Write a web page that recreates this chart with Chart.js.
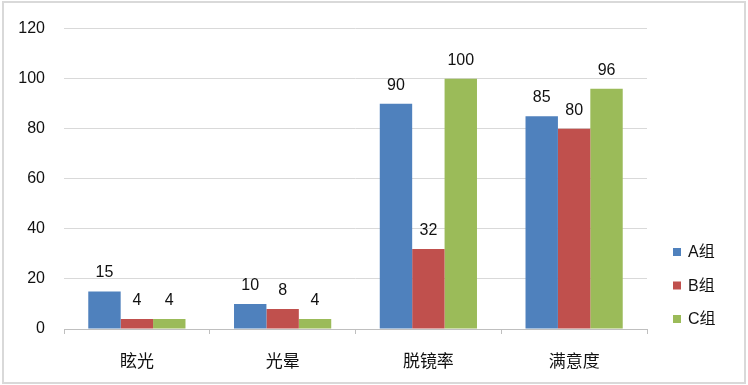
<!DOCTYPE html>
<html>
<head>
<meta charset="utf-8">
<script src="https://cdn.jsdelivr.net/npm/chart.js@4/dist/chart.umd.min.js"></script>
<style>
html, body { margin: 0; padding: 0; background: #fff; }
#wrap { width: 748px; height: 385px; position: relative; }
</style>
</head>
<body>
<div id="wrap"><canvas id="chart" width="748" height="385"></canvas></div>
<script>
var categories = ["眩光", "光晕", "脱镜率", "满意度"];
var seriesNames = ["A组", "B组", "C组"];
var groupA = [15, 10, 90, 85];
var groupB = [4, 8, 32, 80];
var groupC = [4, 4, 100, 96];
var colors = ["#4F81BD", "#C0504D", "#9BBB59"];
var yTicks = [0, 20, 40, 60, 80, 100, 120];

var fontFamily = "'Liberation Sans', 'Noto Sans CJK SC', sans-serif";
var textColor = "#111";

// border round the whole picture
var framePlugin = {
    id: "frame",
    beforeDraw(chart) {
        var ctx = chart.ctx;
        ctx.save();
        ctx.fillStyle = "#fff";
        ctx.fillRect(0, 0, chart.width, chart.height);
        ctx.strokeStyle = "#d9d9d9";
        ctx.lineWidth = 2;
        ctx.strokeRect(3, 2, chart.width - 6, chart.height - 4);
        ctx.restore();
    }
};

// numbers above bars
var valuePlugin = {
    id: "values",
    afterDatasetsDraw(chart) {
        var ctx = chart.ctx;
        ctx.save();
        ctx.font = "16px " + fontFamily;
        ctx.fillStyle = textColor;
        ctx.textAlign = "center";
        ctx.textBaseline = "alphabetic";
        chart.data.datasets.forEach(function (ds, i) {
            chart.getDatasetMeta(i).data.forEach(function (bar, j) {
                ctx.fillText(String(ds.data[j]), bar.x, bar.y - 14);
            });
        });
        ctx.restore();
    }
};

// legend on the right, stacked
var legendPlugin = {
    id: "sideLegend",
    afterDraw(chart) {
        var ctx = chart.ctx;
        var x = chart.chartArea.right + 26;
        var y0 = chart.chartArea.bottom - 77;
        ctx.save();
        ctx.font = "16px " + fontFamily;
        ctx.textBaseline = "middle";
        chart.data.datasets.forEach(function (ds, i) {
            var y = y0 + i * 33.5;
            ctx.fillStyle = ds.backgroundColor;
            ctx.fillRect(x, y - 4, 8, 8);
            ctx.fillStyle = textColor;
            ctx.fillText(ds.label, x + 15, y + 1);
        });
        ctx.restore();
    }
};

var ctx = document.getElementById("chart");
var myChart = new Chart(ctx, {
    type: "bar",
    data: {
        labels: categories,
        datasets: [
            { label: seriesNames[0], data: groupA, backgroundColor: colors[0] },
            { label: seriesNames[1], data: groupB, backgroundColor: colors[1] },
            { label: seriesNames[2], data: groupC, backgroundColor: colors[2] }
        ]
    },
    options: {
        responsive: false,
        animation: false,
        devicePixelRatio: 1,
        layout: { padding: { top: 26, left: 0, right: 101, bottom: 0 } },
        datasets: { bar: { categoryPercentage: 0.667, barPercentage: 1 } },
        scales: {
            x: {
                afterFit: function (s) { s.height = 56; },
                grid: { offset: true, drawOnChartArea: false, drawTicks: true, tickLength: 5, color: "#bfbfbf" },
                border: { display: true, color: "#bfbfbf", width: 1 },
                ticks: { color: textColor, font: { size: 17, family: fontFamily }, padding: 18 }
            },
            y: {
                min: 0,
                max: 120,
                afterFit: function (s) { s.width = 64; },
                afterBuildTicks: function (s) { s.ticks = yTicks.map(function (v) { return { value: v }; }); },
                grid: { color: "#d9d9d9", drawTicks: false },
                border: { display: false },
                ticks: { color: textColor, font: { size: 16, family: fontFamily }, padding: 19 }
            }
        },
        plugins: {
            legend: { display: false },
            tooltip: { enabled: false }
        }
    },
    plugins: [framePlugin, valuePlugin, legendPlugin]
});
</script>
</body>
</html>
